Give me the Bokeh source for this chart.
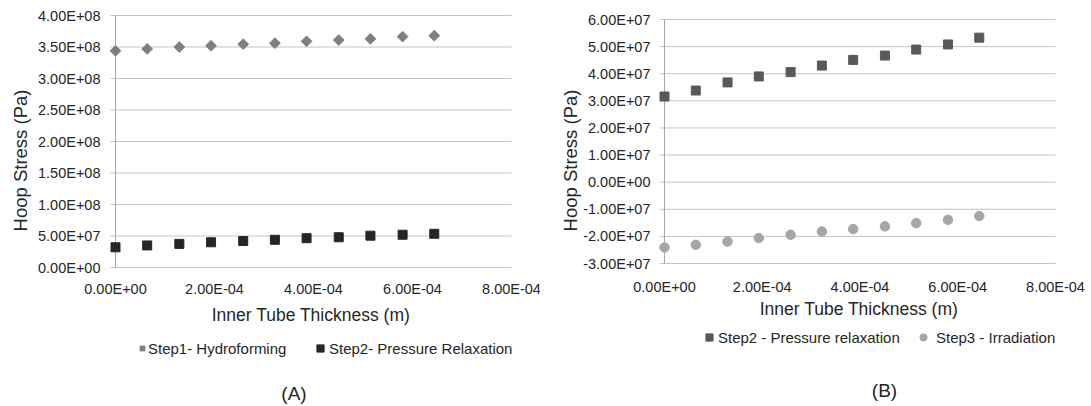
import math
from bokeh.plotting import figure
from bokeh.models import Range1d, Legend, LegendItem, Label, ColumnDataSource
from bokeh.core.properties import value
from bokeh.layouts import row
from bokeh.embed import file_html
from bokeh.resources import INLINE

# ---- data ----
thickness = [0.0, 6.4e-5, 1.29e-4, 1.93e-4, 2.58e-4, 3.22e-4, 3.86e-4, 4.51e-4, 5.15e-4, 5.80e-4, 6.44e-4]
step1_hydroforming = [3.44e8, 3.47e8, 3.50e8, 3.52e8, 3.545e8, 3.56e8, 3.59e8, 3.61e8, 3.63e8, 3.665e8, 3.68e8]
step2_relaxation_A = [3.2e7, 3.5e7, 3.75e7, 4.0e7, 4.2e7, 4.4e7, 4.65e7, 4.8e7, 5.05e7, 5.2e7, 5.35e7]
step2_relaxation_B = [3.16e7, 3.38e7, 3.68e7, 3.90e7, 4.06e7, 4.30e7, 4.51e7, 4.67e7, 4.89e7, 5.08e7, 5.33e7]
step3_irradiation = [-2.41e7, -2.31e7, -2.19e7, -2.06e7, -1.94e7, -1.82e7, -1.73e7, -1.63e7, -1.51e7, -1.39e7, -1.25e7]

x_ticks = [0.0, 2e-4, 4e-4, 6e-4, 8e-4]
y_ticks_A = [0.0, 5e7, 1e8, 1.5e8, 2e8, 2.5e8, 3e8, 3.5e8, 4e8]
y_ticks_B = [-3e7, -2e7, -1e7, 0.0, 1e7, 2e7, 3e7, 4e7, 5e7, 6e7]

x_title = "Inner Tube Thickness  (m)"
y_title = "Hoop Stress (Pa)"
legend_A = ["Step1- Hydroforming", "Step2- Pressure Relaxation"]
legend_B = ["Step2 - Pressure relaxation", "Step3 - Irradiation"]
captions = ["(A)", "(B)"]

FONT = "Liberation Sans"
TXT = "#262626"
GRID = "#c4c4c4"
AXIS = "#a8a8a8"
FIG_H = 404


def fmt(v):
    return f"{v:.2E}"


def make_panel(width, yticks, plot_left, plot_right, plot_top, plot_bottom,
               ylab_gap, xlab_drop):
    """plot_* are pixel positions (within this figure) of the plotting box edges."""
    tick_pad_px = 5  # gridlines extend this far left of the vertical axis
    xppu = (plot_right - (plot_left + tick_pad_px)) / (x_ticks[-1] - x_ticks[0])
    x_lo = x_ticks[0] - tick_pad_px / xppu
    yppu = (plot_bottom - plot_top) / (yticks[-1] - yticks[0])
    x_range = Range1d(x_lo - plot_left / xppu, x_ticks[-1] + (width - plot_right) / xppu)
    y_range = Range1d(yticks[0] - (FIG_H - plot_bottom) / yppu, yticks[-1] + plot_top / yppu)
    p = figure(width=width, height=FIG_H, x_range=x_range, y_range=y_range,
               output_backend="svg", toolbar_location=None, min_border=0,
               x_axis_type=None, y_axis_type=None, outline_line_color=None,
               background_fill_color="white", border_fill_color="white")
    p.grid.visible = False
    # horizontal gridlines
    p.segment(x0=[x_lo] * len(yticks), x1=[x_ticks[-1]] * len(yticks), y0=yticks, y1=yticks,
              line_color=GRID, line_width=1)
    # vertical axis line
    p.segment(x0=[x_ticks[0]], x1=[x_ticks[0]], y0=[yticks[0]], y1=[yticks[-1]],
              line_color=AXIS, line_width=1)
    # tick labels
    p.text(x=[x_lo] * len(yticks), y=yticks, text=[fmt(v) for v in yticks],
           x_offset=-ylab_gap, text_align="right", text_baseline="middle",
           text_font=value(FONT), text_font_size="14.5px", text_color=TXT)
    p.text(x=x_ticks, y=[yticks[0]] * len(x_ticks), text=[fmt(v) for v in x_ticks],
           y_offset=xlab_drop, text_align="center", text_baseline="middle",
           text_font=value(FONT), text_font_size="14.5px", text_color=TXT)
    return p


def text_label(p, x, y, text, size, angle=0.0):
    p.add_layout(Label(x=x, y=y, x_units="screen", y_units="screen", text=text,
                       text_font=FONT, text_font_size=size, text_color=TXT,
                       text_align="center", text_baseline="middle", angle=angle))


def legend(p, label, r, gw, standoff, x, y):
    lg = Legend(items=[LegendItem(label=label, renderers=[r])],
                orientation="horizontal", location=(x, y),
                label_text_font=FONT, label_text_font_size="15px", label_text_color=TXT,
                border_line_color=None, background_fill_alpha=0,
                glyph_width=gw, glyph_height=22, label_height=22,
                label_standoff=standoff, spacing=0, padding=0, margin=0)
    p.add_layout(lg, "center")


# ---- panel A ----
pa = make_panel(540, y_ticks_A, 110, 511, 15, 267, 10, 21)
src_a1 = ColumnDataSource(dict(x=thickness, y=step1_hydroforming))
src_a2 = ColumnDataSource(dict(x=thickness, y=step2_relaxation_A))
ra1 = pa.scatter("x", "y", source=src_a1, marker="square", size=7.6, angle=math.pi / 4,
                 fill_color="#7f7f7f", line_color="#7f7f7f")
ra2 = pa.scatter("x", "y", source=src_a2, marker="square", size=9,
                 fill_color="#262626", line_color="#262626")
legend(pa, legend_A[0], ra1, 12, 0, 136, 45)
legend(pa, legend_A[1], ra2, 18, 0, 311, 45)
text_label(pa, 19.5, FIG_H - 160, y_title, "18.5px", math.pi / 2)
text_label(pa, 313, FIG_H - 314, x_title, "17.5px")
text_label(pa, 293.5, FIG_H - 393, captions[0], "19px")

# ---- panel B ----
pb = make_panel(551, y_ticks_B, 119, 515, 19, 263, 9, 23)
src_b1 = ColumnDataSource(dict(x=thickness, y=step2_relaxation_B))
src_b2 = ColumnDataSource(dict(x=thickness, y=step3_irradiation))
rb1 = pb.scatter("x", "y", source=src_b1, marker="square", size=9,
                 fill_color="#595959", line_color="#595959")
rb2 = pb.scatter("x", "y", source=src_b2, marker="circle", size=9.5,
                 fill_color="#a6a6a6", line_color="#a6a6a6")
legend(pb, legend_B[0], rb1, 18, 0, 160, 56)
legend(pb, legend_B[1], rb2, 18, 4, 374, 56)
text_label(pb, 29.5, FIG_H - 160, y_title, "18.5px", math.pi / 2)
text_label(pb, 321, FIG_H - 308, x_title, "17.5px")
text_label(pb, 344, FIG_H - 390, captions[1], "19px")

layout = row(pa, pb, spacing=0)
open("out.html", "w").write(file_html(layout, INLINE))
